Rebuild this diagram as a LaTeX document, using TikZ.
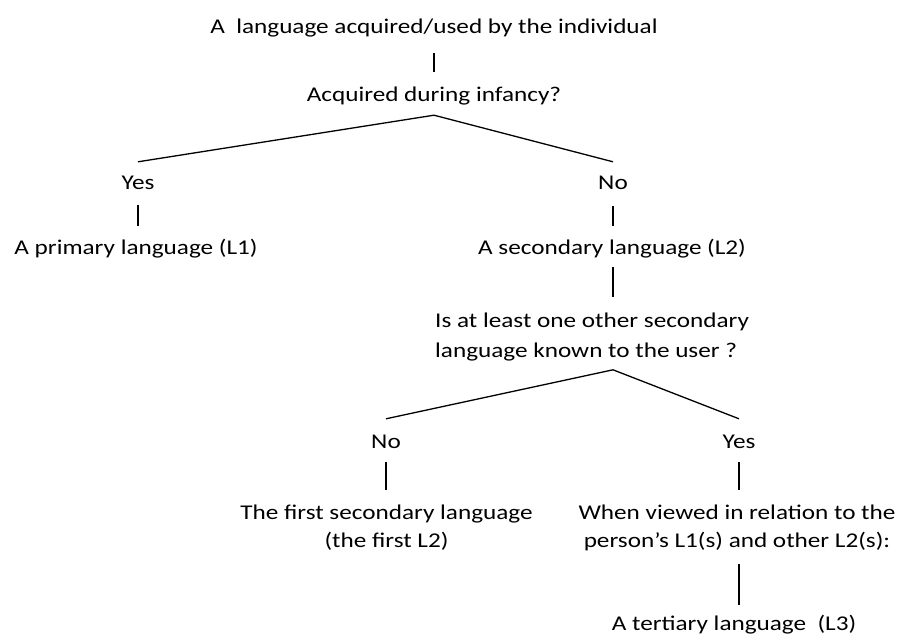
\documentclass[tikz,border=0pt]{standalone}
\usepackage{fontspec}
\setmainfont{Carlito}[FakeStretch=1.2]

\begin{document}
\begin{tikzpicture}[x=1pt, y=-1pt,
        word/.style={anchor=base, inner sep=0pt, text height=15pt, text depth=5pt,
            font=\fontsize{21}{28}\selectfont},
        block/.style={anchor=base, inner sep=0pt, align=center,
            font=\fontsize{21}{28}\selectfont},
        branch/.style={line width=1.3pt}]
        \useasboundingbox (0,0) rectangle (902,637);

        % Questions and answers
        \node[word] (title) at (434,33) {A\ \ language acquired/used by the individual};
        \node[word] (infancy) at (434,101.7) {Acquired during infancy?};
        \node[word] (yesA) at (138,189.5) {Yes};
        \node[word] (noA) at (613,189.5) {No};
        \node[word] (primary) at (136,254) {A primary language (L1)};
        \node[word] (secondary) at (612,254) {A secondary language (L2)};
        \node[block, anchor=base west, align=left, font=\fontsize{21}{30}\selectfont] (other) at (435,357) {Is at least one other secondary\\language known to the user ?};
        \node[word] (noB) at (386,448) {No};
        \node[word] (yesB) at (739,448) {Yes};
        \node[block] (firstL2) at (386.5,547) {The first secondary language\\(the first L2)};
        \node[block] (viewed) at (737,547) {When viewed in relation to the\\person’s L1(s) and other L2(s):};
        \node[word] (tertiary) at (734,630) {A tertiary language\ \ (L3)};

        % Forks
        \coordinate (forkA) at ([yshift=-8.3pt]infancy.south);
        \coordinate (forkB) at ([yshift=-9pt]other.south -| noA.south);

        % Branches
        \draw[branch, shorten <=15pt, shorten >=14.7pt] (title.south) -- (infancy.north);
        \draw[branch] ([yshift=12.5pt]yesA.north) -- (forkA) -- ([yshift=12.5pt]noA.north);
        \draw[branch, shorten <=10pt, shorten >=13pt] (yesA.south) -- (yesA.south |- primary.north);
        \draw[branch, shorten <=11.5pt, shorten >=13pt] (noA.south) -- (noA.south |- secondary.north);
        \draw[branch, shorten <=8pt, shorten >=15pt] (noA.south |- secondary.south) -- (noA.south |- other.north);
        \draw[branch] ([yshift=14pt]noB.north) -- (forkB) -- ([yshift=14pt]yesB.north);
        \draw[branch, shorten <=9pt, shorten >=14pt] (noB.south) -- (noB.south |- firstL2.north);
        \draw[branch, shorten <=9pt, shorten >=14pt] (yesB.south) -- (yesB.south |- viewed.north);
        \draw[branch, shorten <=13pt, shorten >=10pt] (yesB.south |- viewed.south) -- (yesB.south |- tertiary.north);
\end{tikzpicture}
\end{document}
